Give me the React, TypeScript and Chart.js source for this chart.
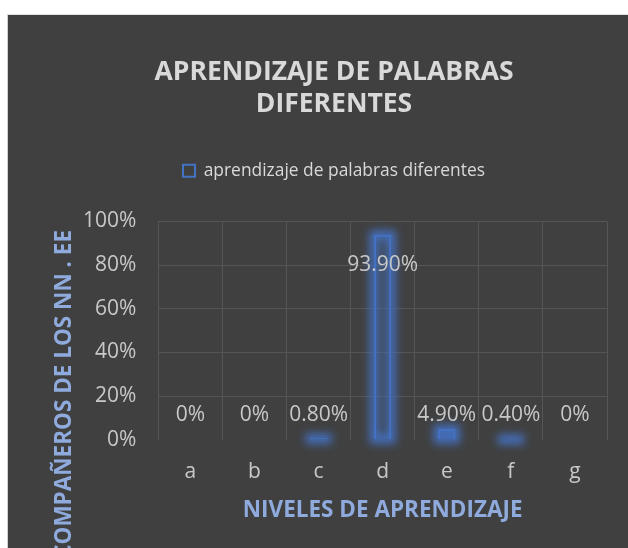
import React, { useEffect, useRef } from "react";
import { Chart, registerables } from "chart.js";

Chart.register(...registerables);

const categories = ["a", "b", "c", "d", "e", "f", "g"];
const seriesName = "aprendizaje de palabras diferentes";
const values = [0, 0, 0.8, 93.9, 4.9, 0.4, 0];
const yTicks = [0, 20, 40, 60, 80, 100];
const titleLines = ["APRENDIZAJE DE PALABRAS", "DIFERENTES"];
const xTitle = "NIVELES DE APRENDIZAJE";
const yTitle = "COMPAÑEROS DE LOS NN . EE";

const BG = "#404040";
const BLUE = "#4472C4";
const LIGHT_BLUE = "#8FAADC";
const TEXT = "#c8c8c8";
const FONT = "'Open Sans', 'DejaVu Sans', sans-serif";

function fmt(v: number) {
  return v === 0 ? "0%" : v.toFixed(2) + "%";
}

const legendSpacer = {
  id: "legendSpacer",
  beforeInit(chart: any) {
    const legend = chart.legend;
    if (!legend) return;
    const orig = legend.fit;
    legend.fit = function () {
      orig.call(this);
      this.height += 32;
    };
  },
};

const glowPlugin = {
  id: "glow",
  beforeDatasetsDraw(chart: any) {
    const ctx = chart.ctx;
    const meta = chart.getDatasetMeta(0);
    ctx.save();
    ctx.filter = "blur(4px)";
    ctx.strokeStyle = "rgba(68,114,196,0.95)";
    ctx.lineWidth = 9;
    meta.data.forEach((bar: any, i: number) => {
      if (!values[i]) return;
      const p = bar.getProps(["x", "y", "base", "width"], true);
      const left = p.x - p.width / 2;
      const top = Math.min(p.y, p.base);
      const h = Math.max(Math.abs(p.base - p.y), 1);
      ctx.strokeRect(left, top, p.width, h);
    });
    ctx.restore();
  },
};

const labelsPlugin = {
  id: "valueLabels",
  afterDraw(chart: any) {
    const ctx = chart.ctx;
    const meta = chart.getDatasetMeta(0);
    const area = chart.chartArea;
    ctx.save();
    ctx.font = `21px ${FONT}`;
    ctx.fillStyle = TEXT;
    ctx.textAlign = "center";
    ctx.textBaseline = "middle";
    meta.data.forEach((bar: any, i: number) => {
      const v = values[i];
      const y = v > 50 ? bar.y + 30 : area.bottom - 25;
      ctx.fillText(fmt(v), bar.x, y);
    });
    // y axis title (rotated)
    ctx.font = `bold 22.5px ${FONT}`;
    ctx.fillStyle = LIGHT_BLUE;
    ctx.translate(57, 215);
    ctx.rotate(-Math.PI / 2);
    ctx.textAlign = "right";
    ctx.fillText(yTitle, 0, 0);
    ctx.restore();
  },
};

export default function App() {
  const ref = useRef<HTMLCanvasElement>(null);
  useEffect(() => {
    if (!ref.current) return;
    const chart = new Chart(ref.current, {
      type: "bar",
      data: {
        labels: categories,
        datasets: [
          {
            label: seriesName,
            data: values,
            backgroundColor: "rgba(68,114,196,0.1)",
            borderColor: BLUE,
            borderWidth: 2,
            barPercentage: 0.27,
            categoryPercentage: 1,
          },
        ],
      },
      options: {
        responsive: false,
        animation: false,
        devicePixelRatio: 1,
        layout: { padding: { left: 53, right: 21, top: 0, bottom: 24 } },
        plugins: {
          tooltip: { enabled: false },
          title: {
            display: true,
            text: titleLines,
            color: "#d9d9d9",
            font: { family: FONT, size: 26.5, weight: "bold", lineHeight: 1.2 },
            padding: { top: 42, bottom: 31.5 },
          },
          legend: {
            display: true,
            labels: {
              color: "#d9d9d9",
              font: { family: FONT, size: 17.4 },
              boxWidth: 12,
              boxHeight: 12,
              padding: 10,
              generateLabels: () => [
                {
                  text: seriesName,
                  fillStyle: BG,
                  strokeStyle: BLUE,
                  fontColor: "#d9d9d9",
                  lineWidth: 2,
                  hidden: false,
                  datasetIndex: 0,
                },
              ],
            },
          },
        },
        scales: {
          x: {
            grid: { display: true, offset: true, color: "#555555", drawTicks: false },
            border: { display: false },
            ticks: { color: TEXT, font: { family: FONT, size: 21 }, padding: 20 },
            title: {
              display: true,
              text: xTitle,
              color: LIGHT_BLUE,
              font: { family: FONT, size: 22.5, weight: "bold" },
              padding: { top: -8, bottom: 0 },
            },
          },
          y: {
            min: 0,
            max: 100,
            afterBuildTicks: (axis: any) => {
              axis.ticks = yTicks.map((v) => ({ value: v }));
            },
            grid: {
              color: (c: any) => (c.tick && c.tick.value === 0 ? "rgba(0,0,0,0)" : "#555555"),
              drawTicks: false,
            },
            border: { display: false },
            ticks: {
              color: TEXT,
              font: { family: FONT, size: 21 },
              padding: 22,
              callback: (v: any) => `${v}%`,
            },
          },
        },
      },
      plugins: [legendSpacer, glowPlugin, labelsPlugin],
    });
    return () => chart.destroy();
  }, []);
  return (
    <div
      style={{
        position: "fixed",
        left: 7,
        top: 14,
        width: 620,
        height: 533,
        background: BG,
        borderLeft: "1px solid #d0d0d0",
        borderTop: "1px solid #e0e0e0",
      }}
    >
      <canvas ref={ref} width={620} height={533} style={{ display: "block", width: 620, height: 533 }} />
    </div>
  );
}
